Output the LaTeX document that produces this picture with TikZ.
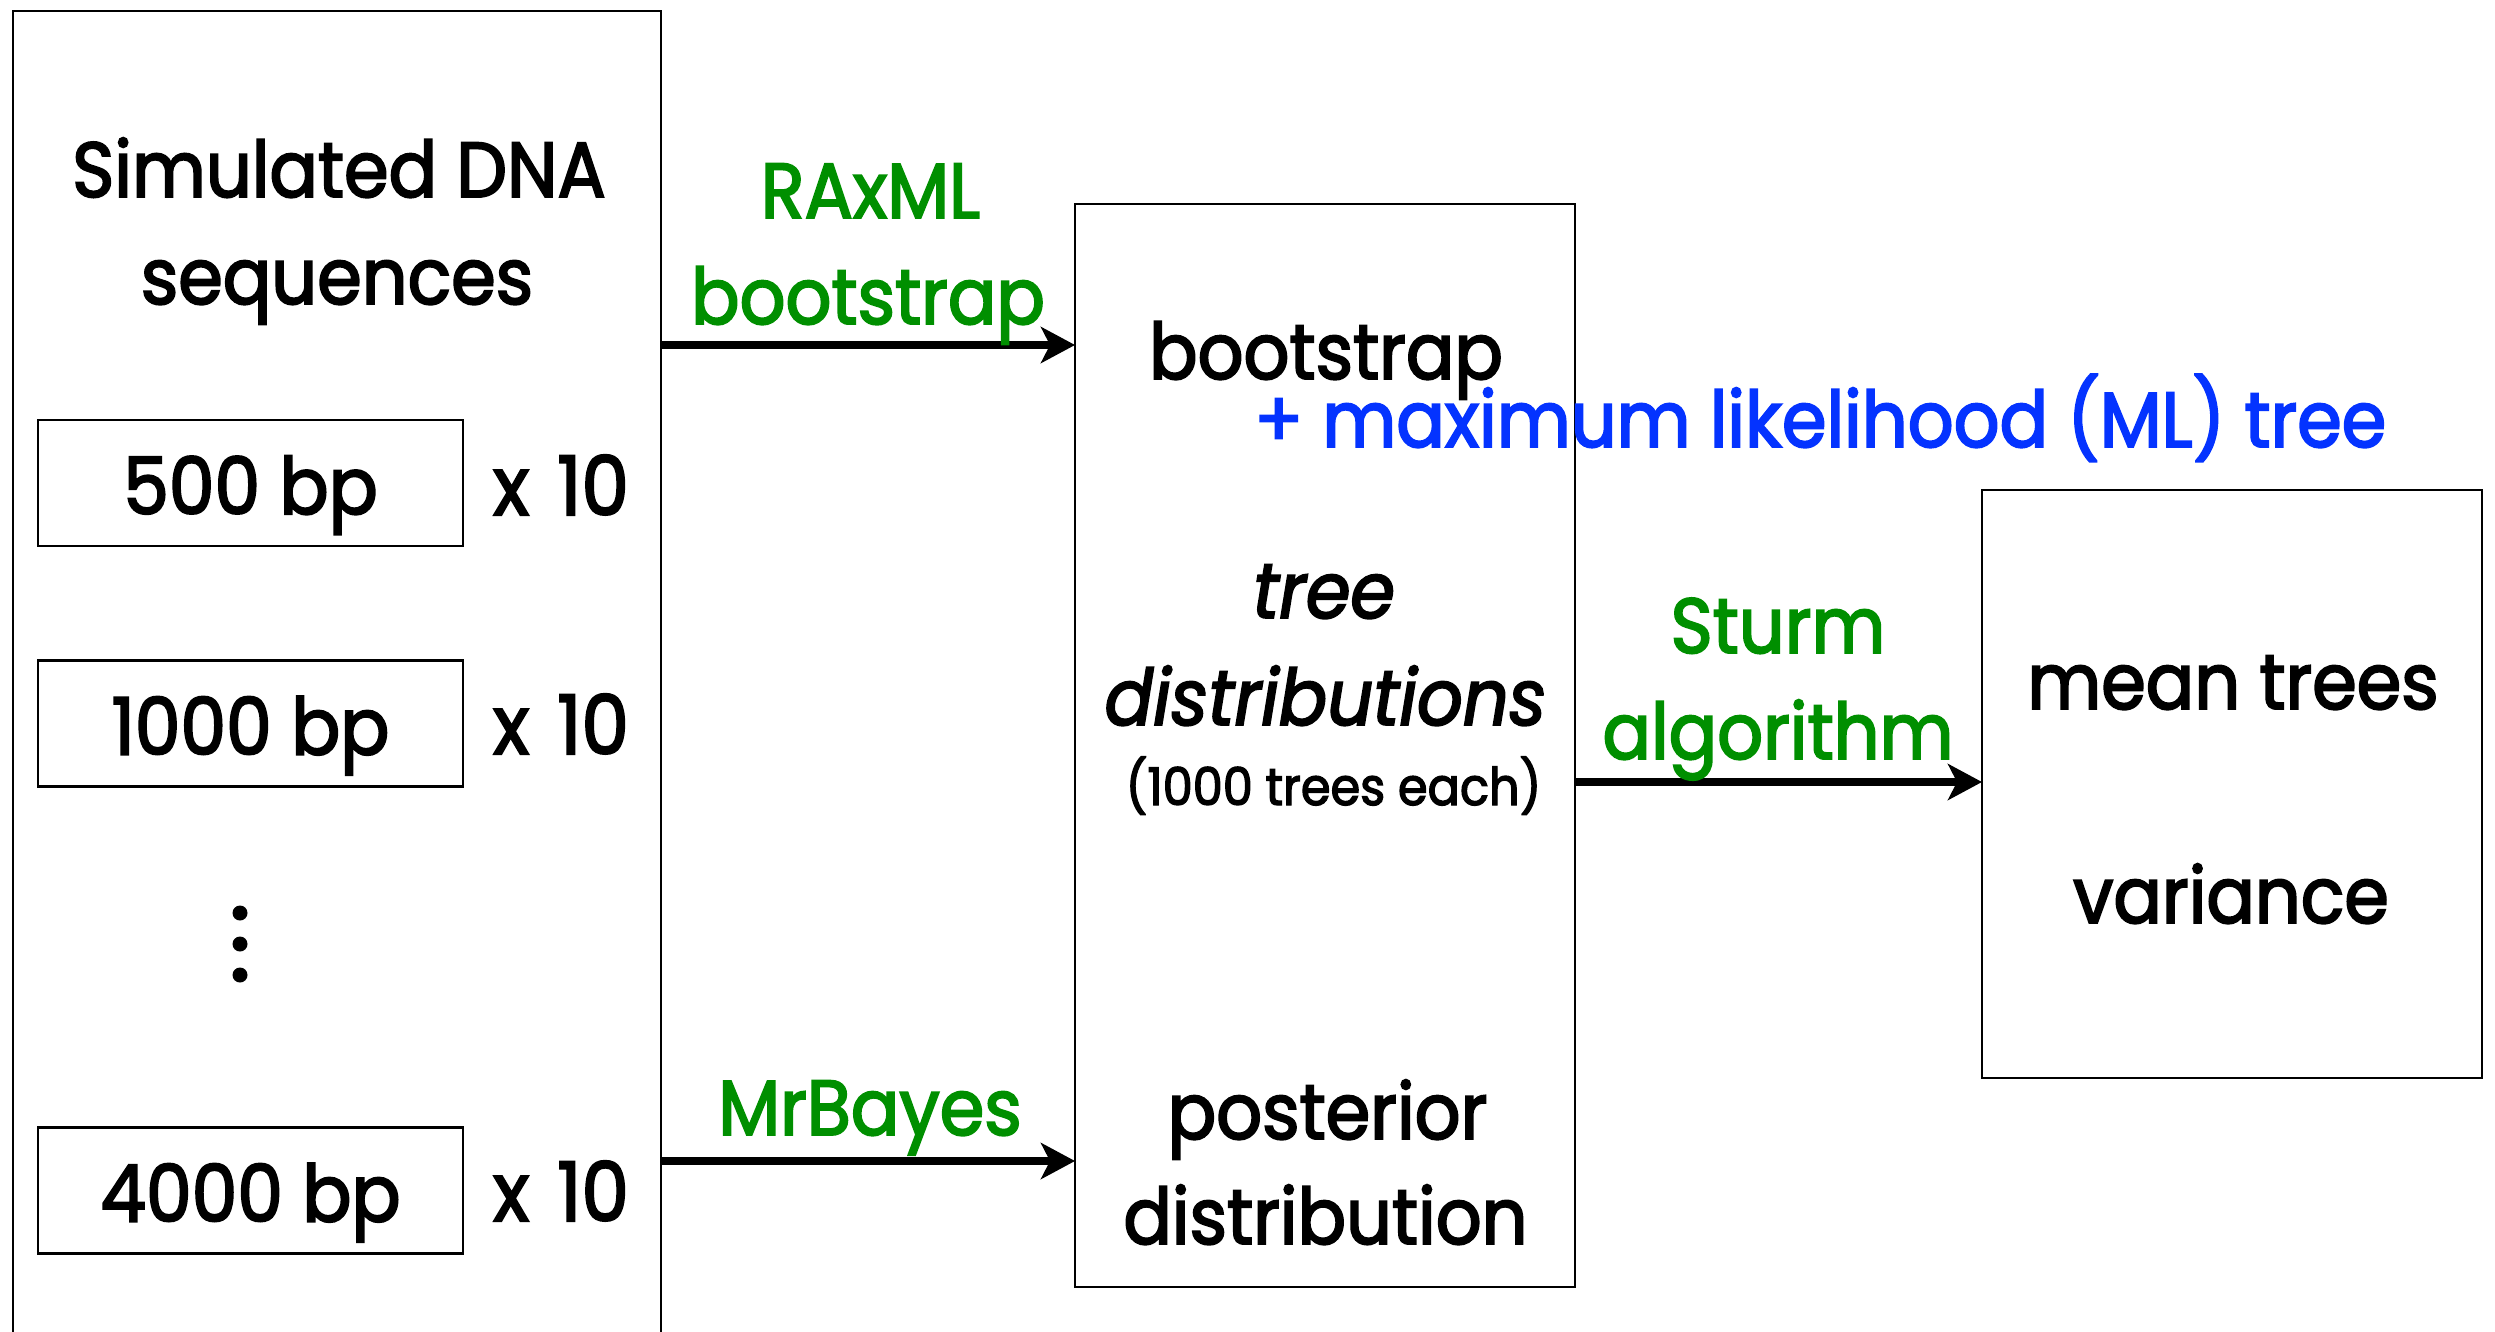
\documentclass[tikz,border=0pt]{standalone}
\usepackage{fontspec}
\setmainfont{Poppins}[FakeStretch=0.92,FakeBold=2.5]
\usetikzlibrary{arrows.meta}
\definecolor{kgreen}{RGB}{0,143,0}
\definecolor{kblue}{RGB}{4,51,255}
\begin{document}
\begin{tikzpicture}[x=1pt,y=-1pt,
  boxline/.style={draw=black,line width=2.8pt,inner sep=0pt,outer sep=0pt},
  lenbox/.style={boxline,minimum width=425pt,minimum height=126pt,text height=62pt,text depth=0pt,font=\fontsize{79}{90}\selectfont},
  bigtxt/.style={inner sep=0pt,anchor=base,font=\fontsize{78}{90}\selectfont},
  smalltxt/.style={inner sep=0pt,anchor=base,font=\fontsize{52}{60}\selectfont},
  grn/.style={bigtxt,text=kgreen},
  blu/.style={bigtxt,text=kblue},
  arr/.style={line width=7.5pt,-{Stealth[length=34pt,width=36pt,inset=9pt]}}]
\useasboundingbox (0,0) rectangle (2495,1331);
\clip (0,0) rectangle (2495,1331);
\fill[white] (0,0) rectangle (2495,1331);
% boxes
\node[boxline,minimum width=648pt,minimum height=1360pt,anchor=north west] (seq) at (13,11) {};
\node[boxline,minimum width=500pt,minimum height=1083pt,anchor=north west] (trees) at (1075,204) {};
\node[boxline,minimum width=500pt,minimum height=588pt,anchor=north west] (mean) at (1982,490) {};
% left box content
\node[bigtxt] (t1) at (339,197) {Simulated DNA};
\node[bigtxt] (t2) at (337,304) {sequences};
\node[lenbox] (b500) at (250.5,483) {500 bp};
\node[lenbox] (b1000) at (250.5,723.5) {1000 bp};
\node[lenbox] (b4000) at (250.5,1190.5) {4000 bp};
\node[bigtxt,font=\fontsize{82}{90}\selectfont] (x1) at (561,515) {x\hspace{8pt} 10};
\node[bigtxt,font=\fontsize{82}{90}\selectfont] (x2) at (561,754) {x\hspace{8pt} 10};
\node[bigtxt,font=\fontsize{82}{90}\selectfont] (x3) at (561,1221) {x\hspace{8pt} 10};
\fill (240,913) circle (7.5);
\fill (240,944) circle (7.5);
\fill (240,975) circle (7.5);
% middle box content
\node[bigtxt] (bs) at (1326,379) {bootstrap};
\node[bigtxt,font=\fontsize{78}{90}\selectfont\itshape] (tr) at (1324,618) {tree};
\node[bigtxt,font=\fontsize{78}{90}\selectfont\itshape] (dists) at (1325.5,725) {distributions};
\node[smalltxt] (each) at (1333.5,805) {(1000 trees each)};
\node[bigtxt] (post) at (1327.5,1139) {posterior};
\node[bigtxt] (distr) at (1325.5,1244) {distribution};
% right box content
\node[bigtxt] (mt) at (2233,709) {mean trees};
\node[bigtxt] (var) at (2231,923) {variance};
% blue label
\node[blu,anchor=base west] (ml) at (1254,447) {+ maximum likelihood (ML) tree};
% arrows
\draw[arr] (seq.east |- 0,345) -- (trees.west |- 0,345);
\draw[arr] (seq.east |- 0,1161) -- (trees.west |- 0,1161);
\draw[arr] (trees.east |- 0,782) -- (mean.west |- 0,782);
% arrow labels
\node[grn] (rax) at (870.5,218) {RAxML};
\node[grn] (rbs) at (868,324) {bootstrap};
\node[grn] (mrb) at (870,1135) {MrBayes};
\node[grn] (st) at (1778,653) {Sturm};
\node[grn] (alg) at (1778,759) {algorithm};
\end{tikzpicture}
\end{document}
